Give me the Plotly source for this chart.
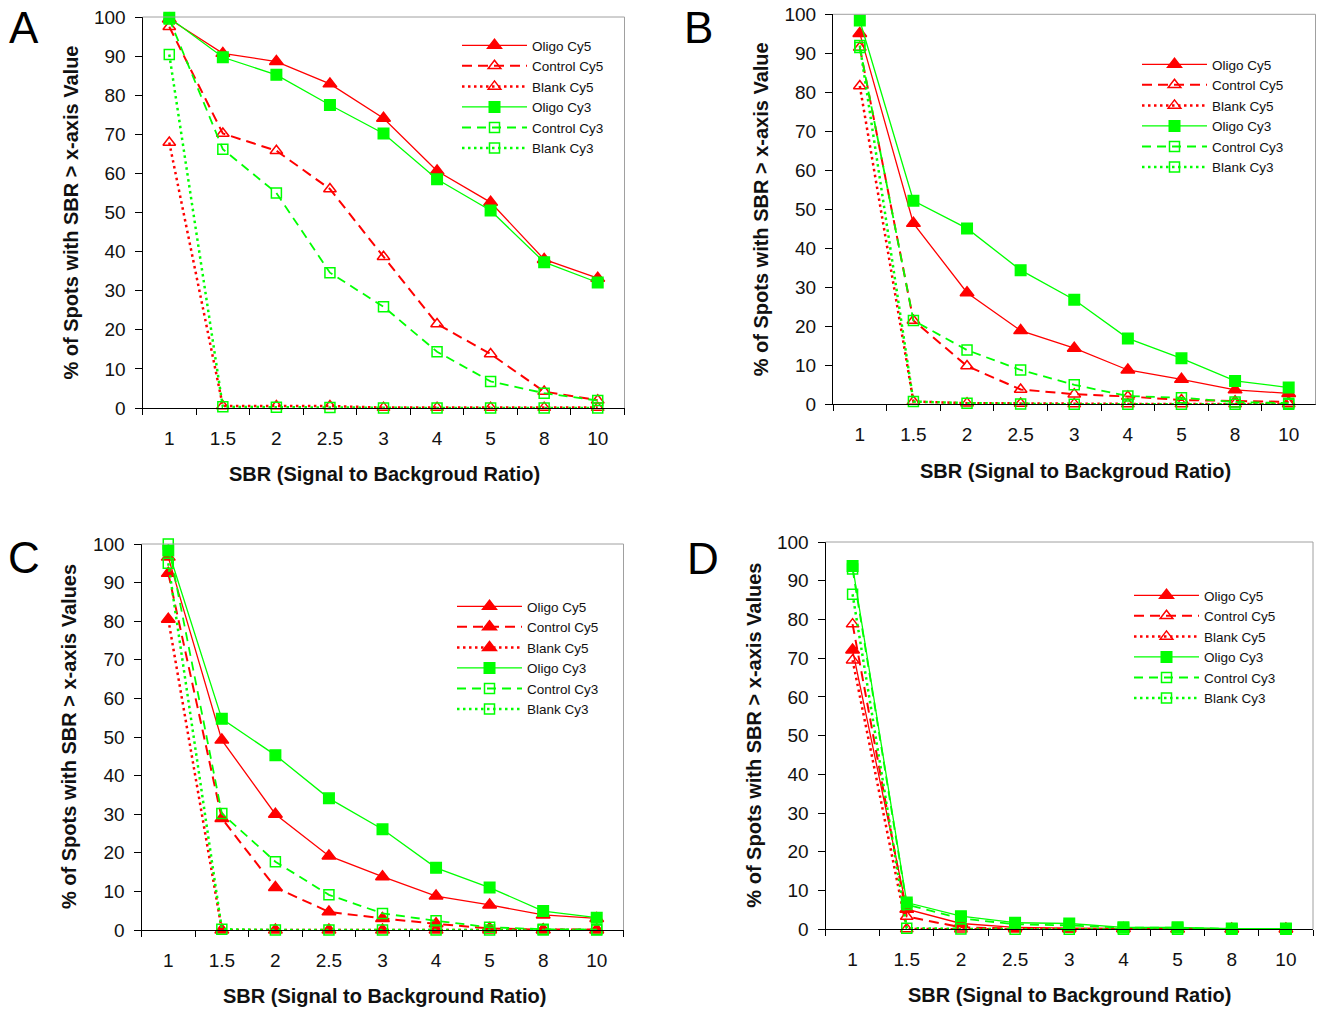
import plotly.graph_objects as go

cats = ["1", "1.5", "2", "2.5", "3", "4", "5", "8", "10"]
series_names = ["Oligo Cy5", "Control Cy5", "Blank Cy5", "Oligo Cy3", "Control Cy3", "Blank Cy3"]

A_oligo_cy5 = [99.5, 90.7, 88.6, 82.9, 74.1, 60.6, 52.6, 38.0, 33.2]
A_control_cy5 = [97.5, 70.2, 65.8, 56.0, 38.7, 21.5, 13.8, 4.2, 2.0]
A_blank_cy5 = [67.9, 0.5, 0.5, 0.5, 0.1, 0.1, 0.1, 0.1, 0.1]
A_oligo_cy3 = [99.8, 89.7, 85.2, 77.5, 70.2, 58.5, 50.5, 37.3, 32.1]
A_control_cy3 = [99.5, 66.2, 55.0, 34.6, 25.9, 14.4, 6.8, 3.8, 1.9]
A_blank_cy3 = [90.4, 0.3, 0.2, 0.1, 0.0, 0.0, 0.0, 0.0, 0.0]

B_oligo_cy5 = [95.1, 46.4, 28.6, 18.9, 14.4, 8.8, 6.4, 3.7, 2.8]
B_control_cy5 = [91.5, 21.5, 9.8, 3.8, 2.6, 2.0, 1.1, 0.8, 0.6]
B_blank_cy5 = [81.6, 0.7, 0.3, 0.2, 0.1, 0.1, 0.1, 0.1, 0.1]
B_oligo_cy3 = [98.4, 52.2, 45.1, 34.4, 26.8, 16.9, 11.8, 6.0, 4.3]
B_control_cy3 = [91.5, 21.5, 13.9, 8.8, 5.0, 2.1, 1.7, 0.6, 0.3]
B_blank_cy3 = [92.0, 0.7, 0.3, 0.1, 0.0, 0.0, 0.0, 0.0, 0.0]

C_oligo_cy5 = [96.6, 49.2, 30.0, 19.2, 13.8, 8.8, 6.5, 3.9, 3.0]
C_control_cy5 = [92.4, 28.9, 11.0, 4.7, 3.0, 1.6, 0.4, 0.1, 0.1]
C_blank_cy5 = [80.5, 0.0, 0.0, 0.0, 0.0, 0.0, 0.0, 0.0, 0.0]
C_oligo_cy3 = [98.3, 54.7, 45.3, 34.1, 26.1, 16.1, 11.0, 4.9, 3.2]
C_control_cy3 = [100.0, 30.2, 17.7, 9.1, 4.3, 2.4, 0.7, 0.2, 0.1]
C_blank_cy3 = [95.0, 0.2, 0.0, 0.0, 0.0, 0.0, 0.0, 0.0, 0.0]

D_oligo_cy5 = [72.1, 5.2, 1.5, 0.5, 0.3, 0.2, 0.1, 0.1, 0.1]
D_control_cy5 = [78.8, 3.3, 0.5, 0.2, 0.1, 0.1, 0.0, 0.0, 0.0]
D_blank_cy5 = [69.5, 0.1, 0.0, 0.0, 0.0, 0.0, 0.0, 0.0, 0.0]
D_oligo_cy3 = [93.8, 6.9, 3.4, 1.7, 1.5, 0.5, 0.5, 0.2, 0.2]
D_control_cy3 = [93.0, 6.4, 2.8, 1.3, 1.0, 0.4, 0.4, 0.1, 0.1]
D_blank_cy3 = [86.5, 0.3, 0.1, 0.0, 0.0, 0.0, 0.0, 0.0, 0.0]

y_ticks = [0, 10, 20, 30, 40, 50, 60, 70, 80, 90, 100]

panels = [
    dict(letter="A", data=[A_oligo_cy5, A_control_cy5, A_blank_cy5, A_oligo_cy3, A_control_cy3, A_blank_cy3],
         ytitle="% of Spots with SBR > x-axis Value", xtitle="SBR (Signal to Backgroud Ratio)",
         cy5_filled=False),
    dict(letter="B", data=[B_oligo_cy5, B_control_cy5, B_blank_cy5, B_oligo_cy3, B_control_cy3, B_blank_cy3],
         ytitle="% of Spots with SBR > x-axis Value", xtitle="SBR (Signal to Backgroud Ratio)",
         cy5_filled=False),
    dict(letter="C", data=[C_oligo_cy5, C_control_cy5, C_blank_cy5, C_oligo_cy3, C_control_cy3, C_blank_cy3],
         ytitle="% of Spots with SBR > x-axis Values", xtitle="SBR (Signal to Background Ratio)",
         cy5_filled=True),
    dict(letter="D", data=[D_oligo_cy5, D_control_cy5, D_blank_cy5, D_oligo_cy3, D_control_cy3, D_blank_cy3],
         ytitle="% of Spots with SBR > x-axis Values", xtitle="SBR (Signal to Background Ratio)",
         cy5_filled=False),
]

W, H = 1317, 1013
# pixel layout: (x0, x1, ytop, ybottom)
boxes = [(142.5, 624.5, 17, 408), (833, 1315.5, 14.3, 404.3),
         (141.5, 623.5, 544, 930), (825.5, 1313, 542, 929.3)]
letter_pos = [(24, 27), (698, 28), (24, 557), (703, 558)]
ytitle_x = [71, 761, 69, 754]
xtitle_pos = [(384.5, 474), (1075.5, 471), (384, 996), (1069.5, 995)]
legend_pos = [(532, 45), (1212, 64), (527, 606), (1204, 595)]

RED = "#FF0000"
GREEN = "#00FF00"
FONT = "Arial, Liberation Sans, sans-serif"

styles = [
    dict(color=RED, dash="solid", width=1.3),
    dict(color=RED, dash="10px,6px", width=2),
    dict(color=RED, dash="2.5px,3.5px", width=2.5),
    dict(color=GREEN, dash="solid", width=1.3),
    dict(color=GREEN, dash="9px,6px", width=1.8),
    dict(color=GREEN, dash="2.5px,3.5px", width=2.5),
]

fig = go.Figure()
annotations = []
shapes = []
layout_upd = {}

for i, p in enumerate(panels):
    n = i + 1
    xa = "x" if n == 1 else f"x{n}"
    ya = "y" if n == 1 else f"y{n}"
    leg = "legend" if n == 1 else f"legend{n}"
    for j, vals in enumerate(p["data"]):
        st = styles[j]
        if j < 3:
            if j == 0 or p["cy5_filled"]:
                sym, size = "triangle-up", 12
            else:
                sym, size = "triangle-up-open", 11
        else:
            if j == 3:
                sym, size = "square", 10.5
            else:
                sym, size = "square-open", 10
        fig.add_trace(go.Scatter(
            x=cats, y=vals, name=series_names[j], mode="lines+markers",
            xaxis=xa, yaxis=ya, legend=leg, cliponaxis=False,
            line=dict(color=st["color"], dash=st["dash"], width=st["width"]),
            marker=dict(symbol=sym, size=size, color=st["color"],
                        line=dict(color=st["color"], width=1.5)),
        ))
    x0, x1, yt, yb = boxes[i]
    layout_upd["xaxis" if n == 1 else f"xaxis{n}"] = dict(
        domain=[x0 / W, x1 / W], anchor=ya, type="category", range=[-0.5, 8.5],
        showline=True, linecolor="#000", linewidth=1, ticks="outside", ticklen=6,
        tickcolor="#000", tickson="boundaries", showgrid=False, zeroline=False,
        tickfont=dict(family=FONT, size=19, color="#111"), ticklabelstandoff=13,
        automargin=False,
    )
    layout_upd["yaxis" if n == 1 else f"yaxis{n}"] = dict(
        domain=[1 - yb / H, 1 - yt / H], anchor=xa, range=[0, 100],
        tickvals=y_ticks, showline=True, linecolor="#000", linewidth=1,
        ticks="outside", ticklen=7, tickcolor="#000", showgrid=False, zeroline=False,
        tickfont=dict(family=FONT, size=19, color="#111"), ticklabelstandoff=5,
        automargin=False,
    )
    shapes.append(dict(type="line", xref=f"{xa} domain", yref=f"{ya} domain",
                       x0=0, x1=1, y0=1, y1=1, line=dict(color="#A0A0A0", width=1)))
    shapes.append(dict(type="line", xref=f"{xa} domain", yref=f"{ya} domain",
                       x0=1, x1=1, y0=0, y1=1, line=dict(color="#A0A0A0", width=1)))
    lx, ly = letter_pos[i]
    annotations.append(dict(text=p["letter"], x=lx / W, y=1 - ly / H, xref="paper", yref="paper",
                            xanchor="center", yanchor="middle", showarrow=False,
                            font=dict(family=FONT, size=44, color="#000")))
    annotations.append(dict(text=f"<b>{p['ytitle']}</b>", x=ytitle_x[i] / W, y=1 - ((yt + yb) / 2) / H,
                            xref="paper", yref="paper", xanchor="center", yanchor="middle",
                            textangle=-90, showarrow=False,
                            font=dict(family=FONT, size=20, color="#111")))
    tx, ty = xtitle_pos[i]
    annotations.append(dict(text=f"<b>{p['xtitle']}</b>", x=tx / W, y=1 - ty / H,
                            xref="paper", yref="paper", xanchor="center", yanchor="middle",
                            showarrow=False, font=dict(family=FONT, size=20, color="#111")))
    gx, gy = legend_pos[i]
    layout_upd[leg] = dict(x=(gx - 75) / W, y=1 - (gy - 15) / H, xanchor="left", yanchor="top",
                           bgcolor="rgba(0,0,0,0)", tracegroupgap=0, itemwidth=65,
                           font=dict(family=FONT, size=13.5, color="#111"))

fig.update_layout(
    width=W, height=H, margin=dict(l=0, r=0, t=0, b=0, pad=0, autoexpand=False),
    paper_bgcolor="white", plot_bgcolor="white", showlegend=True,
    annotations=annotations, shapes=shapes, **layout_upd,
)

fig.write_html("out.html", config={"displayModeBar": False},
               post_script="document.body.style.margin='0';")
